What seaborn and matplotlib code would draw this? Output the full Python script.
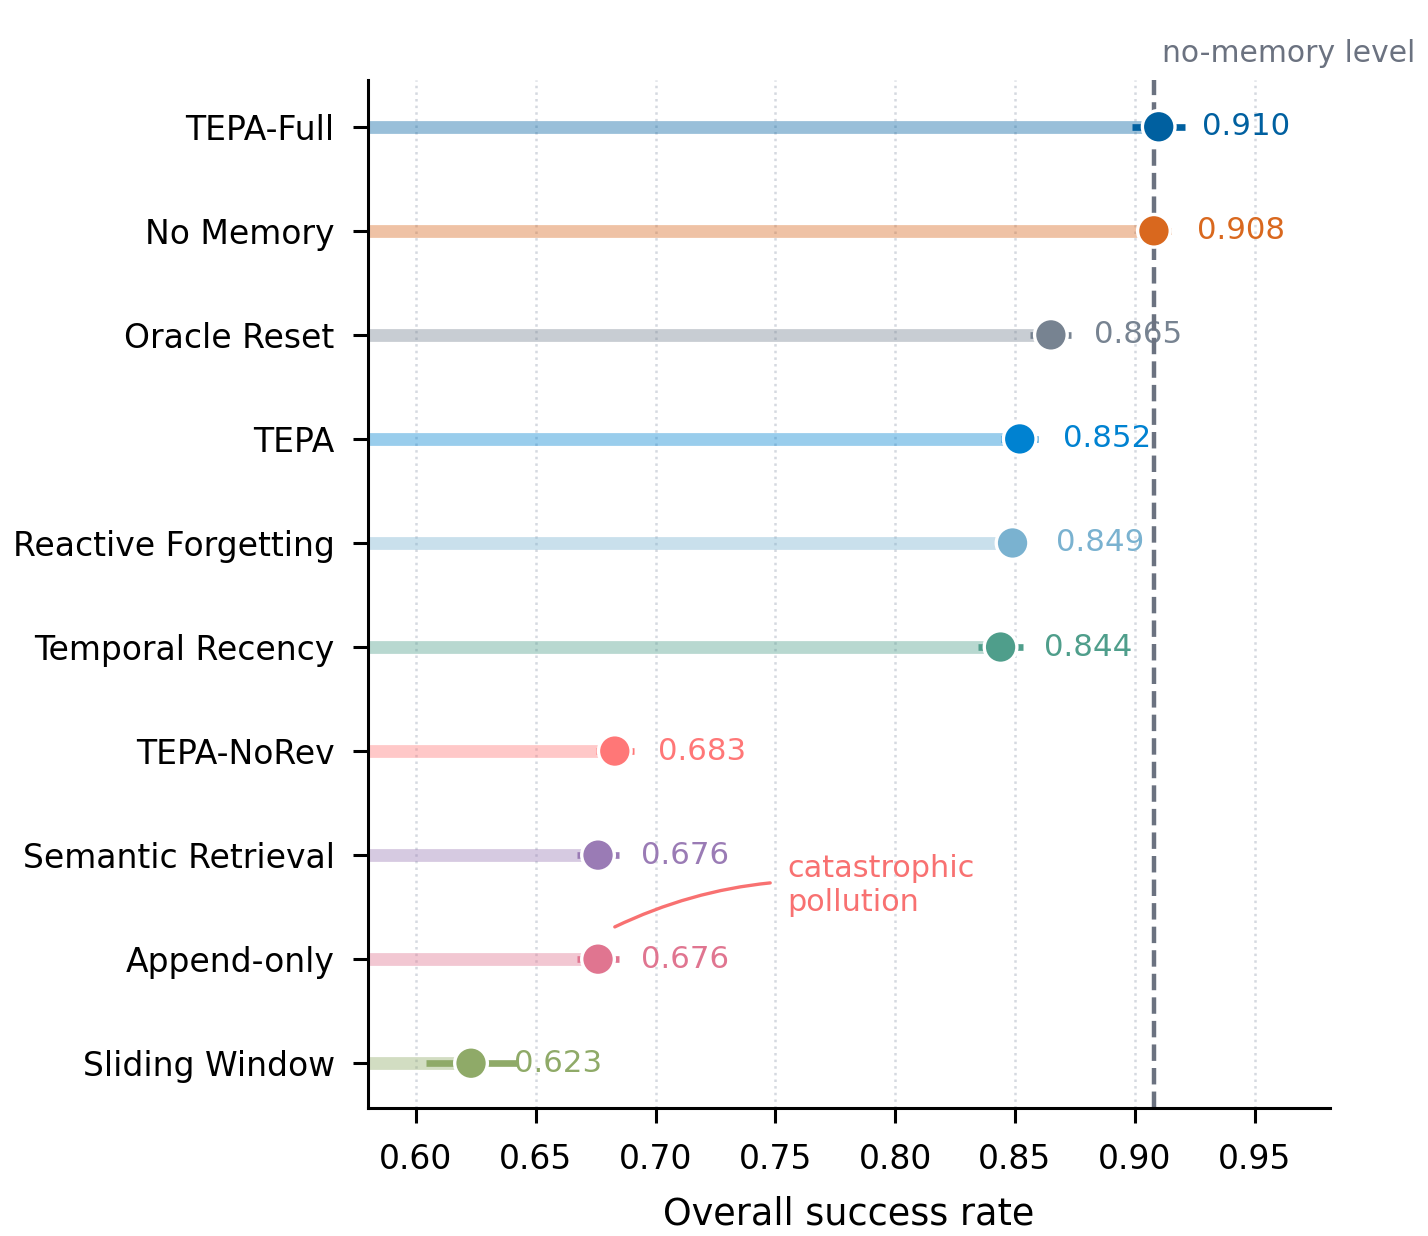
import numpy as np
import pandas as pd
import matplotlib
matplotlib.use("Agg")
import matplotlib.pyplot as plt
import seaborn as sns

methods = ["TEPA-Full", "No Memory", "Oracle Reset", "TEPA", "Reactive Forgetting",
           "Temporal Recency", "TEPA-NoRev", "Semantic Retrieval", "Append-only", "Sliding Window"]
values = [0.910, 0.908, 0.865, 0.852, 0.849, 0.844, 0.683, 0.676, 0.676, 0.623]
errors = [0.011, 0.007, 0.0086, 0.0078, 0.0055, 0.0095, 0.008, 0.0086, 0.0086, 0.019]
colors = ["#0060a0", "#d9681e", "#778391", "#0082d1", "#7ab2d0",
          "#4f9e8b", "#ff7777", "#9a7bb5", "#e07590", "#8faa68"]
xticks = [0.60, 0.65, 0.70, 0.75, 0.80, 0.85, 0.90, 0.95]
no_memory_level = 0.908

sns.set_theme(style="ticks")
plt.rcParams['font.family'] = ['DejaVu Sans']
plt.rcParams['text.color'] = 'black'
plt.rcParams['axes.labelcolor'] = 'black'
plt.rcParams['xtick.color'] = 'black'
plt.rcParams['ytick.color'] = 'black'

df = pd.DataFrame({"method": methods, "value": values, "err": errors})
df["ypos"] = np.arange(len(methods))

fig = plt.figure(figsize=(7.14, 6.18), dpi=200)
ax = fig.add_axes([0.2577, 0.1036, 0.9314 - 0.2577, 0.9353 - 0.1036])

xmin, xmax = 0.58, 0.9815

# grid
for xt in xticks:
    ax.axvline(xt, color="#d5d9e0", lw=0.9, ls=":", zorder=0)

# stems
for i, (v, c) in enumerate(zip(values, colors)):
    ax.hlines(i, xmin, v, color=c, alpha=0.4, lw=4.6, zorder=1)

# error bars
for i, (v, e, c) in enumerate(zip(values, errors, colors)):
    ax.errorbar(v, i, xerr=e, color=c, lw=2.4, capsize=0, zorder=2, fmt="none")

# reference line
ax.axvline(no_memory_level, color="#6b7280", lw=1.6, ls="--", zorder=2.5)
ax.text(no_memory_level + 0.0035, 1.012, "no-memory level", color="#6b7280",
        fontsize=10.7, ha="left", va="bottom",
        transform=ax.get_xaxis_transform())

# points
sns.scatterplot(data=df, x="value", y="ypos", hue="method", palette=colors,
                s=138, edgecolor="white", linewidth=1.2, legend=False, zorder=4, ax=ax)

# value labels
for i, (v, c) in enumerate(zip(values, colors)):
    ax.text(v + 0.018, i, f"{v:.3f}", color=c, fontsize=11.1, ha="left", va="center", zorder=2)

# annotation
ax.annotate("catastrophic\npollution", xy=(0.683, 7.69), xytext=(0.755, 7.29),
            color="#f87171", fontsize=10.9, ha="left", va="center",
            arrowprops=dict(arrowstyle="-", color="#f87171", lw=1.2,
                            connectionstyle="arc3,rad=0.15", shrinkA=4, shrinkB=0))

ax.set_xlim(xmin, xmax)
ax.set_ylim(len(methods) - 1 + 0.43, -0.45)
ax.set_yticks(range(len(methods)))
ax.set_yticklabels(methods, fontsize=11.9)
ax.set_xticks(xticks)
ax.set_xticklabels([f"{x:.2f}" for x in xticks], fontsize=11.9)
ax.set_xlabel("Overall success rate", fontsize=13.2, labelpad=7)
ax.set_ylabel("")
ax.tick_params(axis="both", length=5.5, width=1.1, color="black", labelcolor="black")
ax.tick_params(axis="y", pad=6.5)
ax.tick_params(axis="x", pad=7)
for s in ["left", "bottom"]:
    ax.spines[s].set_linewidth(1.1)
    ax.spines[s].set_color("black")
sns.despine(ax=ax)

fig.savefig("out.png", dpi=200)
